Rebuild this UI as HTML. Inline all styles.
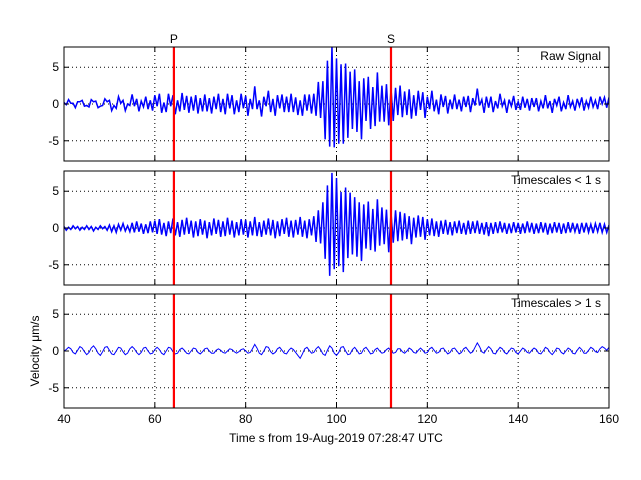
<!DOCTYPE html>
<html><head><meta charset="utf-8"><style>
html,body{margin:0;padding:0;background:#fff;}
svg{display:block;font-family:"Liberation Sans",sans-serif;}
</style></head><body>
<svg id="chart" width="641" height="480" viewBox="0 0 641 480"></svg>
<script>
const xTicks=[40,60,80,100,120,140,160];
const yTicks=[-5,0,5];
const phaseNames=["P","S"];
const phaseTimes=[64.2,112];
const panelTitles=["Raw Signal","Timescales < 1 s","Timescales > 1 s"];
const tStart=40, tStep=0.5;
const lowFreq=[0,0.2,0.5,0.3,-0.2,-0.4,0.1,0.6,0.4,-0.1,
-0.5,-0.2,0.4,0.7,0.3,-0.3,-0.6,-0.1,0.5,0.6,
0.1,-0.4,-0.5,0,0.5,0.4,-0.1,-0.5,-0.3,0.3,
0.6,0.3,-0.2,-0.5,-0.2,0.4,0.5,0,-0.4,-0.3,
0.2,0.5,0.2,-0.3,-0.5,0,0.5,0.4,-0.1,-0.4,
-0.3,0.2,0.4,0.1,-0.3,-0.4,0,0.4,0.3,-0.2,
-0.4,-0.1,0.3,0.4,0,-0.3,-0.3,0.1,0.3,0.1,
-0.2,-0.3,0,0.3,0.2,-0.1,-0.3,-0.1,0.2,0.3,
0,-0.3,-0.2,0.3,0.9,0.4,-0.3,-0.5,0,0.6,
0.5,-0.1,-0.4,-0.2,0.3,0.5,0.1,-0.3,-0.4,0.1,
0.4,0.2,-0.2,-0.6,-1.0,-0.4,0.3,0.5,0.1,-0.3,
-0.2,0.3,0.6,0.2,-0.4,-0.6,0.1,0.7,0.4,-0.3,
-0.6,-0.2,0.5,0.6,0,-0.5,-0.4,0.2,0.5,0.1,
-0.4,-0.3,0.3,0.5,0.1,-0.4,-0.3,0.2,0.4,0,
-0.3,-0.2,0.2,0.4,0,-0.3,-0.2,0.3,0.3,-0.1,
-0.3,0,0.4,0.2,-0.2,-0.3,0.1,0.4,0.1,-0.3,
-0.2,0.3,0.5,0.1,-0.3,-0.2,0.3,0.4,0,-0.4,
-0.2,0.3,0.4,0,-0.4,-0.2,0.3,0.5,0.1,-0.3,
-0.1,0.5,1.1,0.6,-0.1,-0.3,0.2,0.6,0.3,-0.3,
-0.4,0.1,0.5,0.3,-0.2,-0.4,0,0.4,0.3,-0.2,
-0.4,0,0.4,0.2,-0.2,-0.3,0.1,0.4,0.2,-0.3,
-0.4,0,0.5,0.3,-0.2,-0.5,-0.1,0.4,0.3,-0.2,
-0.4,0,0.4,0.2,-0.3,-0.4,0.1,0.5,0.2,-0.3,
-0.3,0.1,0.5,0.3,-0.1,-0.2,0.3,0.6,0.4,0.1,0.5];
const highFreq=[0.2,-0.3,0.1,-0.2,0.3,-0.1,0.2,-0.3,0.1,-0.2,
0.3,-0.2,0.2,-0.4,0.1,-0.2,0.3,-0.1,0.2,-0.3,
0.4,-0.5,0.3,-0.6,0.5,-0.3,0.6,-0.4,0.3,-0.5,
0.7,-0.6,0.9,-0.5,0.6,-0.8,0.5,-0.7,0.9,-0.6,
1.0,-0.8,1.2,-0.9,0.7,-1.1,0.9,-0.7,1.3,-1.0,
0.8,-1.2,1.1,-0.9,1.4,-0.8,1.0,-1.3,0.9,-1.1,
1.2,-0.9,1.0,-1.4,0.8,-1.0,1.3,-0.8,1.1,-1.2,
0.9,-1.1,1.4,-0.9,1.0,-1.3,0.8,-1.0,1.2,-0.9,
1.1,-1.3,0.9,-1.0,1.5,-1.1,0.8,-1.2,1.0,-0.9,
1.3,-1.0,1.1,-1.4,0.9,-1.1,1.2,-0.8,1.4,-1.2,
1.0,-1.3,1.1,-0.9,1.5,-1.2,1.0,-1.4,1.2,-1.0,
1.6,-1.9,2.4,-2.1,3.5,-4.2,5.8,-6.5,7.5,-5.6,
6.8,-5.2,4.9,-6.0,5.5,-4.1,4.8,-3.6,4.2,-3.9,
3.5,-4.5,3.2,-2.8,3.6,-3.0,2.6,-3.2,3.9,-2.4,
2.8,-2.2,2.5,-3.3,2.1,-2.0,2.4,-1.8,2.2,-1.7,
2.0,-1.5,1.6,-2.2,1.4,-1.3,1.7,-1.2,1.5,-1.6,
1.2,-1.0,1.3,-1.1,0.9,-1.2,1.0,-0.8,1.1,-0.9,
0.8,-1.0,0.9,-0.7,1.0,-0.8,0.7,-0.9,1.0,-0.8,
0.9,-0.7,1.0,-0.8,0.7,-0.9,0.8,-1.1,0.7,-0.8,
0.8,-0.7,0.9,-0.6,0.7,-0.8,0.6,-0.7,0.8,-0.6,
0.7,-0.8,0.6,-0.7,0.9,-0.6,0.7,-0.8,0.6,-0.7,
0.8,-0.6,0.7,-0.9,0.6,-0.7,0.8,-0.6,0.7,-0.8,
0.6,-0.7,0.8,-0.6,0.7,-0.5,0.6,-0.8,0.7,-0.6,
0.7,-0.6,0.5,-0.7,0.6,-0.5,0.7,-0.6,0.5,-0.6,0.4];

const NS="http://www.w3.org/2000/svg";
const svg=document.getElementById('chart');
const L=64,R=609,yMin=-7.75,yMax=7.75;
const panels=[{top:47,bot:161},{top:171,bot:285},{top:294,bot:408}];
const strokeW=[1.5,1.5,1];
function xs(t){return L+(t-40)/(160-40)*(R-L);}
function mk(tag,attrs,parent){const e=document.createElementNS(NS,tag);for(const k in attrs)e.setAttribute(k,attrs[k]);(parent||svg).appendChild(e);return e;}
const rawSig=lowFreq.map((v,i)=>v+highFreq[i]);
const series=[rawSig,highFreq,lowFreq];
panels.forEach((p,pi)=>{
  const ys=v=>p.bot-(v-yMin)/(yMax-yMin)*(p.bot-p.top);
  const g=mk('g',{});
  
  
  const cp=mk('clipPath',{id:'c'+pi},g);
  mk('rect',{x:L,y:p.top,width:R-L,height:p.bot-p.top},cp);
  xTicks.forEach(t=>{
    if(t===40||t===160)return;
    const l=mk('line',{x1:xs(t),x2:xs(t),y1:p.top,y2:p.bot,stroke:'#000','stroke-width':1,'stroke-dasharray':'1,3'},g);
    
    
  });
  yTicks.forEach(v=>{
    const l=mk('line',{x1:L,x2:R,y1:ys(v),y2:ys(v),stroke:'#000','stroke-width':1,'stroke-dasharray':'1,3'},g);
    
    
    const tx=mk('text',{x:L-5,y:ys(v)+4,'text-anchor':'end','font-size':12},g);
    tx.textContent=String(v);
    
    
  });
  const d=series[pi].map((v,i)=>(i?'L':'M')+xs(tStart+i*tStep).toFixed(2)+','+ys(v).toFixed(2)).join('');
  const path=mk('path',{d:d,fill:'none',stroke:'#0000ff','stroke-width':strokeW[pi],'clip-path':'url(#c'+pi+')'},g);
  
  
  phaseTimes.forEach((t,k)=>{
    const l=mk('line',{x1:xs(t),x2:xs(t),y1:p.top,y2:p.bot,stroke:'#ff0000','stroke-width':2.2},g);
    
    
    if(pi===0){
      const tx=mk('text',{x:xs(t),y:p.top-4,'text-anchor':'middle','font-size':12},g);
      tx.textContent=phaseNames[k];
      
      
    }
  });
  xTicks.forEach(t=>{
    mk('line',{x1:xs(t),x2:xs(t),y1:p.bot,y2:p.bot-5,stroke:'#000'},g);
    mk('line',{x1:xs(t),x2:xs(t),y1:p.top,y2:p.top+5,stroke:'#000'},g);
    if(pi===2){
      const tx=mk('text',{x:xs(t),y:p.bot+15,'text-anchor':'middle','font-size':12},g);
      tx.textContent=String(t);
      
      
    }
  });
  yTicks.forEach(v=>{
    mk('line',{x1:L,x2:L+5,y1:ys(v),y2:ys(v),stroke:'#000'},g);
    mk('line',{x1:R,x2:R-5,y1:ys(v),y2:ys(v),stroke:'#000'},g);
  });
  const box=mk('rect',{x:L,y:p.top,width:R-L,height:p.bot-p.top,fill:'none',stroke:'#000','stroke-width':1},g);
  
  
  const title=mk('text',{x:R-8,y:p.top+13,'text-anchor':'end','font-size':12},g);
  title.textContent=panelTitles[pi];
  
  
});
const xl=mk('text',{x:336,y:442,'text-anchor':'middle','font-size':12});
xl.textContent='Time s from 19-Aug-2019 07:28:47 UTC';


const yl=mk('text',{x:0,y:0,'text-anchor':'middle','font-size':12,transform:'translate(39,351) rotate(-90)'});
yl.textContent='Velocity \u03bcm/s';


</script>
</body></html>
